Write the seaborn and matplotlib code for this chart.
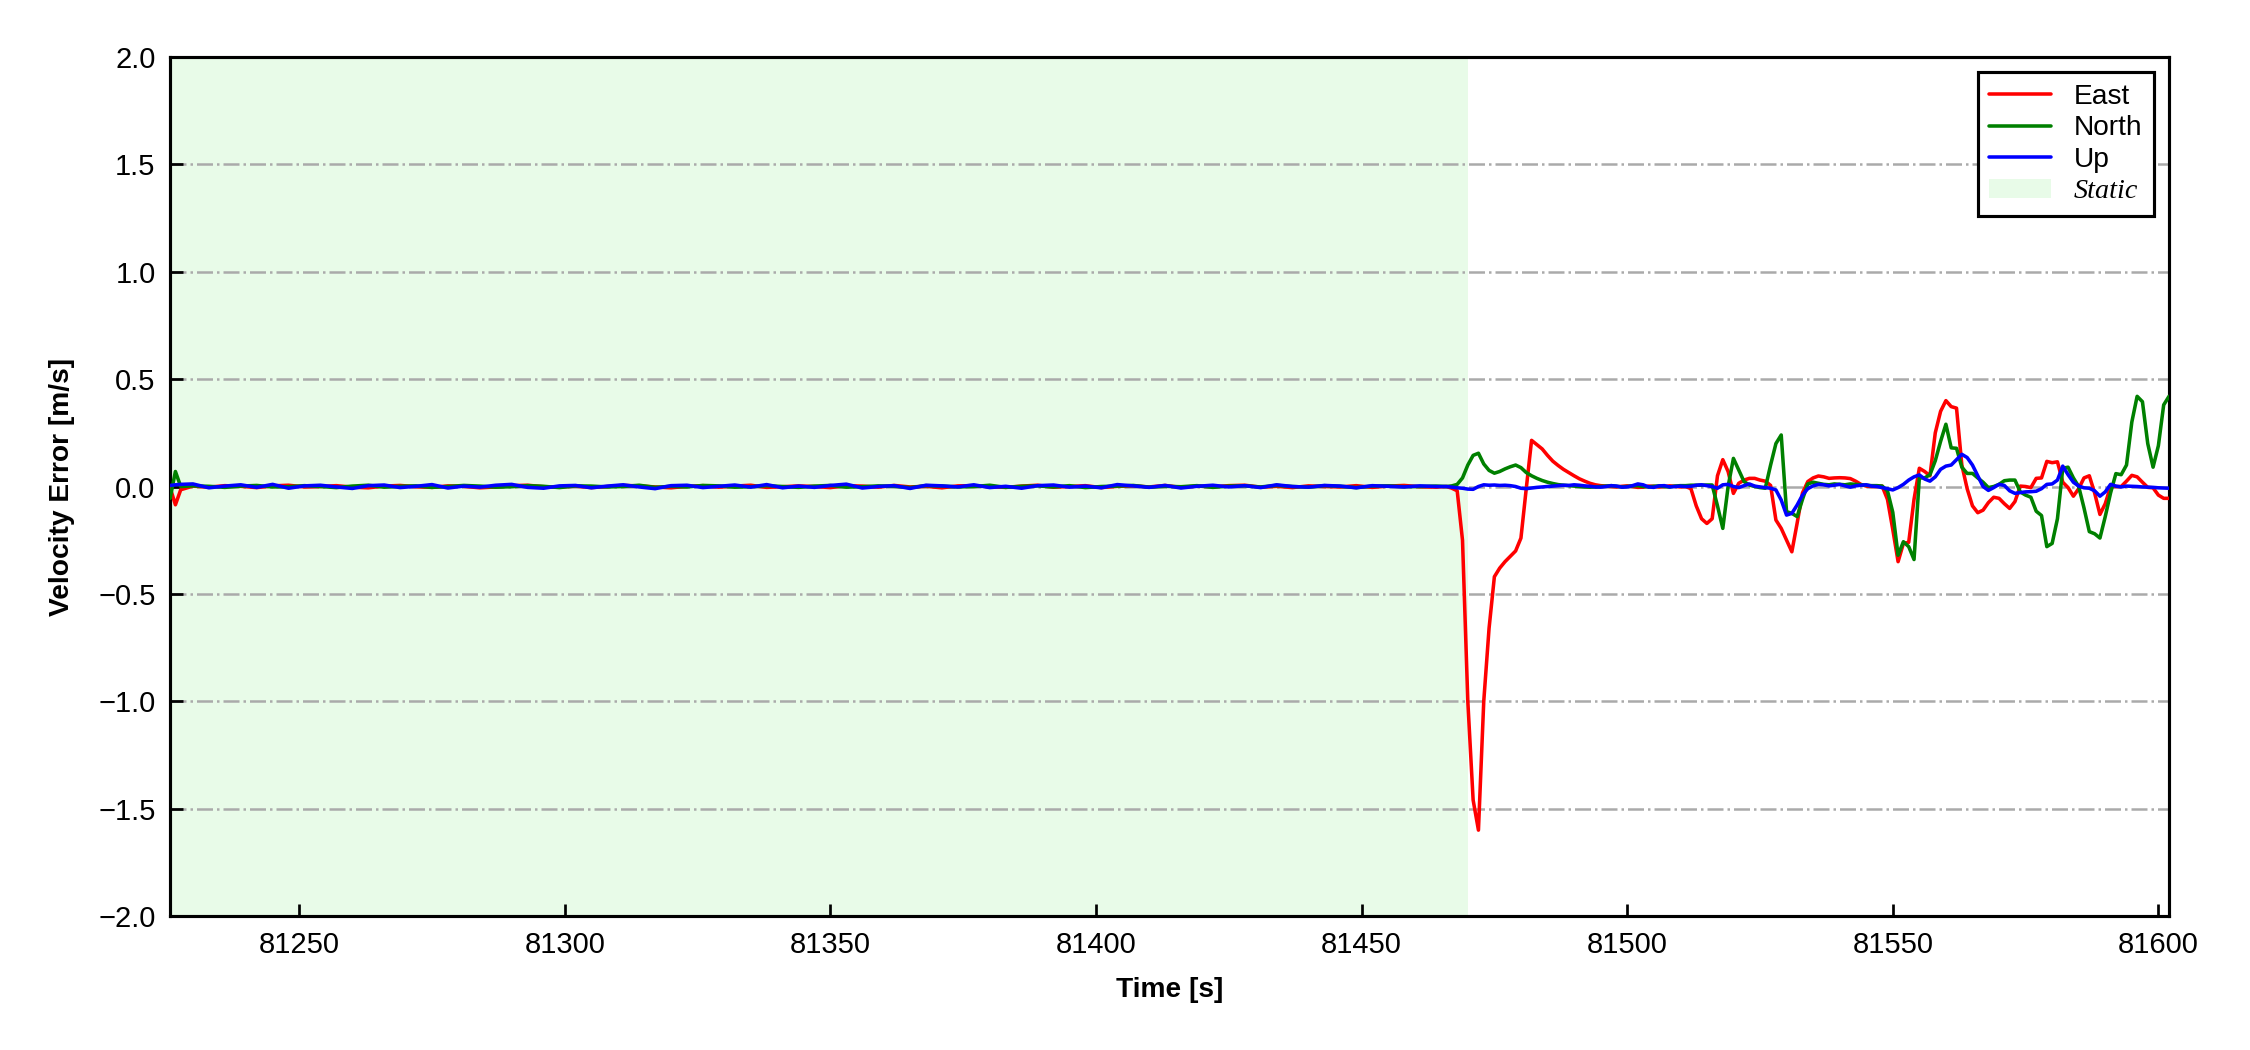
import numpy as np
import pandas as pd
import matplotlib
matplotlib.use('Agg')
import matplotlib.pyplot as plt
from matplotlib.patches import Patch
from matplotlib.lines import Line2D
import seaborn as sns

# ── data: velocity error (m/s) per component ────────────────────────────────
# start of record (transient right after alignment)
head_t = [81225.7, 81226.7, 81227.7]
head_east = [-0.005, -0.085, -0.015]
head_north = [-0.055, 0.070, 0.000]
head_up = [0.005, 0.008, 0.010]

# static period, 3 s sampling
static_t = np.arange(81230, 81466, 3)
static_east = [
    0.002, -0.003, 0.004, 0.001, -0.005, 0.003, 0.006, -0.002, 0.000, 0.004,
    -0.003, -0.006, 0.002, 0.005, -0.001, -0.004, 0.003, 0.001, -0.006, -0.002,
    0.004, 0.006, -0.001, -0.003, 0.002, -0.005, 0.000, 0.005, 0.003, -0.002,
    -0.006, 0.001, 0.004, -0.003, 0.002, 0.006, -0.004, -0.001, 0.003, 0.000,
    -0.005, 0.004, 0.002, -0.003, 0.005, -0.002, 0.001, -0.006, 0.003, 0.004,
    -0.001, -0.004, 0.002, 0.006, -0.003, 0.000, 0.004, -0.005, 0.001, 0.003,
    -0.002, 0.005, -0.004, 0.002, -0.001, 0.004, 0.006, -0.003, 0.001, -0.005,
    0.003, 0.000, -0.002, 0.004, -0.004, 0.002, 0.005, -0.001, -0.003]
static_north = [
    0.003, 0.001, -0.004, 0.002, 0.005, -0.002, -0.001, 0.004, 0.000, -0.005,
    0.002, 0.006, -0.003, 0.001, 0.003, -0.004, 0.000, 0.005, 0.002, -0.003,
    -0.001, 0.004, 0.001, -0.005, 0.003, 0.002, -0.002, 0.000, 0.006, -0.004,
    0.001, -0.002, 0.005, 0.003, -0.003, -0.001, 0.004, 0.000, -0.004, 0.002,
    0.005, -0.003, -0.001, 0.003, 0.001, -0.005, 0.004, 0.002, -0.002, 0.000,
    0.006, -0.004, 0.001, 0.003, -0.002, 0.004, -0.005, 0.000, 0.002, 0.005,
    -0.003, 0.001, -0.001, 0.004, -0.004, 0.002, 0.003, -0.002, 0.005, 0.000,
    -0.003, 0.004, 0.001, -0.005, 0.002, 0.003, -0.001, 0.000, 0.002]
static_up = [
    0.012, -0.006, 0.002, 0.008, -0.004, 0.010, -0.008, 0.003, 0.006, -0.002,
    -0.009, 0.004, 0.007, -0.005, 0.001, 0.009, -0.007, 0.002, -0.003, 0.006,
    0.010, -0.004, -0.008, 0.003, 0.005, -0.006, 0.002, 0.008, -0.002, -0.010,
    0.004, 0.006, -0.005, 0.001, 0.007, -0.003, 0.009, -0.006, 0.002, -0.004,
    0.005, 0.011, -0.007, 0.000, 0.004, -0.009, 0.006, 0.003, -0.002, 0.008,
    -0.005, 0.001, -0.008, 0.004, 0.007, -0.003, 0.002, -0.006, 0.009, 0.003,
    -0.004, 0.005, -0.007, 0.001, 0.006, -0.002, 0.004, -0.005, 0.008, 0.000,
    -0.003, 0.005, 0.002, -0.006, 0.004, 0.001, -0.002, 0.003, 0.000]

# kinematic period, 1 s sampling
dyn_t = np.arange(81466, 81603)
dyn_east = [
    0.000, -0.008, -0.020, -0.250, -1.000, -1.460, -1.600, -1.000, -0.660, -0.420,
    -0.380, -0.350, -0.325, -0.300, -0.240, -0.010, 0.215, 0.195, 0.175, 0.145,
    0.118, 0.098, 0.080, 0.065, 0.050, 0.036, 0.025, 0.015, 0.008, 0.004,
    0.002, 0.000, -0.002, 0.001, 0.003, 0.000, -0.004, -0.003, 0.002, 0.001,
    -0.002, 0.000, 0.003, 0.001, -0.002, 0.000, -0.010, -0.090, -0.150, -0.172,
    -0.150, 0.050, 0.125, 0.070, -0.032, 0.015, 0.030, 0.038, 0.038, 0.030,
    0.025, 0.005, -0.156, -0.195, -0.250, -0.304, -0.170, -0.030, 0.023, 0.040,
    0.049, 0.045, 0.038, 0.040, 0.041, 0.040, 0.037, 0.025, 0.010, 0.002,
    0.000, 0.000, 0.002, -0.060, -0.200, -0.350, -0.265, -0.260, -0.060, 0.085,
    0.070, 0.050, 0.250, 0.350, 0.400, 0.372, 0.365, 0.100, -0.010, -0.090,
    -0.122, -0.110, -0.075, -0.050, -0.055, -0.080, -0.102, -0.070, 0.002, 0.000,
    -0.005, 0.038, 0.040, 0.117, 0.111, 0.115, 0.020, -0.005, -0.045, -0.010,
    0.040, 0.050, -0.030, -0.130, -0.080, 0.000, 0.000, 0.000, 0.025, 0.052,
    0.045, 0.020, -0.004, -0.006, -0.040, -0.055, -0.055]
dyn_north = [
    0.000, 0.003, 0.010, 0.040, 0.100, 0.145, 0.155, 0.105, 0.075, 0.062,
    0.070, 0.082, 0.092, 0.100, 0.088, 0.065, 0.050, 0.038, 0.028, 0.020,
    0.014, 0.009, 0.006, 0.004, 0.002, 0.000, -0.002, -0.003, -0.002, 0.000,
    0.002, 0.004, 0.001, -0.002, 0.000, 0.003, 0.004, 0.000, -0.002, 0.001,
    0.003, 0.000, -0.002, 0.002, 0.004, 0.004, 0.006, 0.006, 0.006, 0.007,
    0.007, -0.090, -0.195, 0.000, 0.131, 0.077, 0.023, 0.007, 0.000, -0.005,
    -0.008, 0.100, 0.200, 0.240, -0.117, -0.125, -0.140, -0.060, 0.012, 0.020,
    0.015, 0.010, 0.008, 0.012, 0.010, 0.008, 0.012, 0.010, 0.008, 0.006,
    0.004, 0.004, 0.002, -0.020, -0.120, -0.320, -0.257, -0.280, -0.340, 0.040,
    0.040, 0.055, 0.120, 0.210, 0.290, 0.180, 0.178, 0.090, 0.061, 0.061,
    0.040, 0.020, -0.005, 0.000, 0.010, 0.027, 0.030, 0.030, -0.025, -0.040,
    -0.050, -0.115, -0.135, -0.280, -0.265, -0.150, 0.085, 0.090, 0.040, 0.000,
    -0.100, -0.210, -0.220, -0.240, -0.140, -0.030, 0.060, 0.055, 0.100, 0.300,
    0.420, 0.395, 0.200, 0.090, 0.190, 0.380, 0.420]
dyn_up = [
    0.000, -0.003, -0.006, -0.008, -0.012, -0.013, 0.000, 0.008, 0.006, 0.007,
    0.005, 0.006, 0.004, 0.000, -0.008, -0.010, -0.007, -0.004, -0.002, 0.000,
    0.002, 0.004, 0.006, 0.005, 0.008, 0.006, 0.003, 0.001, -0.002, -0.003,
    0.000, 0.004, 0.002, -0.003, -0.002, 0.004, 0.012, 0.008, -0.002, -0.004,
    0.003, 0.004, -0.002, 0.000, 0.002, 0.000, 0.001, 0.006, 0.008, 0.004,
    0.000, -0.008, 0.008, 0.010, 0.000, -0.005, 0.004, 0.012, 0.002, -0.002,
    -0.005, -0.008, -0.016, -0.063, -0.133, -0.125, -0.086, -0.040, -0.010, 0.003,
    0.010, 0.008, 0.003, 0.006, 0.010, 0.003, -0.003, 0.003, 0.006, 0.008,
    0.002, 0.000, -0.005, -0.010, -0.016, -0.005, 0.010, 0.030, 0.045, 0.054,
    0.035, 0.025, 0.045, 0.080, 0.095, 0.100, 0.125, 0.150, 0.135, 0.100,
    0.050, 0.000, -0.018, -0.005, 0.010, 0.005, -0.020, -0.032, -0.028, -0.025,
    -0.024, -0.022, -0.010, 0.010, 0.012, 0.030, 0.095, 0.055, 0.020, 0.002,
    -0.006, -0.008, -0.020, -0.045, -0.025, 0.010, 0.002, -0.002, 0.002, 0.001,
    0.000, -0.002, -0.003, -0.004, -0.006, -0.007, -0.008]

static_end = 81470.0
components = ["East", "North", "Up"]
colors = {"East": "red", "North": "green", "Up": "blue"}

# ── long table for seaborn ──────────────────────────────────────────────────
t_all = np.concatenate([head_t, static_t, dyn_t])
series = {
    "East": head_east + static_east + dyn_east,
    "North": head_north + static_north + dyn_north,
    "Up": head_up + static_up + dyn_up,
}
frames = []
for c in components:
    frames.append(pd.DataFrame({"time": t_all, "err": series[c], "comp": c}))
df = pd.concat(frames, ignore_index=True)

# ── plot ────────────────────────────────────────────────────────────────────
sns.set_theme(style="ticks")
plt.rcParams["font.family"] = ["Liberation Sans", "DejaVu Sans"]
plt.rcParams["axes.linewidth"] = 1.5
plt.rcParams["text.color"] = "black"
plt.rcParams["axes.labelcolor"] = "black"

fig = plt.figure(figsize=(15, 7), dpi=150)
ax = fig.add_axes([0.0756, 0.1276, 0.8884, 0.8181])

ax.axvspan(t_all[0], static_end, color="#90ee90", alpha=0.2, lw=0, zorder=0)
sns.lineplot(data=df, x="time", y="err", hue="comp", hue_order=components,
             palette=colors, estimator=None, sort=False, linewidth=1.7,
             legend=False, ax=ax, zorder=3)

ax.set_xlim(t_all[0], t_all[-1])
ax.set_ylim(-2.0, 2.0)
ax.set_yticks(np.arange(-2.0, 2.01, 0.5))
ax.set_xticks(np.arange(81250, 81601, 50))
ax.yaxis.set_major_formatter(
    matplotlib.ticker.FuncFormatter(lambda v, p: f"{v:.1f}".replace("-", "\u2212")))
ax.yaxis.grid(True, linestyle="-.", color="#aaaaaa", linewidth=1.2)
ax.xaxis.grid(False)
ax.set_axisbelow(True)
for s in ax.spines.values():
    s.set_color("black")
    s.set_linewidth(1.5)
ax.tick_params(direction="in", length=6, width=1.3, labelsize=14,
               pad=7, colors="black")

ax.set_xlabel("Time [s]", fontsize=13.5, fontweight="bold", labelpad=9, color="black")
ax.set_ylabel("Velocity Error [m/s]", fontsize=13.5, fontweight="bold", labelpad=11,
              color="black")

handles = [Line2D([], [], color=colors[c], lw=1.7) for c in components]
handles.append(Patch(facecolor="#90ee90", alpha=0.2, edgecolor="none"))
leg = ax.legend(handles, components + ["Static"], loc="upper right",
                fontsize=13.5, frameon=True, fancybox=False, framealpha=1,
                edgecolor="black", labelspacing=0.2, handlelength=2.2,
                handletextpad=0.8, borderpad=0.4, borderaxespad=0.55)
leg.get_frame().set_linewidth(1.5)
for txt in leg.get_texts():
    txt.set_color("black")
leg.get_texts()[-1].set_fontfamily(["Liberation Serif", "DejaVu Serif"])
leg.get_texts()[-1].set_fontstyle("italic")

fig.savefig("out.png", dpi=150, facecolor="white")
